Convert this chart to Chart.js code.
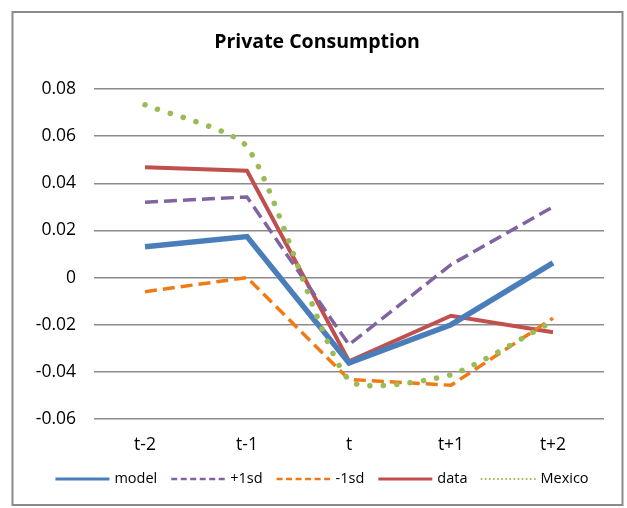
<!DOCTYPE html>
<html>
<head>
<meta charset="utf-8">
<script src="https://cdn.jsdelivr.net/npm/chart.js@4/dist/chart.umd.min.js"></script>
<style>
  html, body { margin: 0; padding: 0; background: #fff; }
  canvas { display: block; }
</style>
</head>
<body>
<canvas id="myChart" width="627" height="508"></canvas>
<script>
// categories and series values
var periods = ['t-2', 't-1', 't', 't+1', 't+2'];
var model   = [0.0131, 0.0174, -0.0362, -0.0200, 0.0062];
var plus1sd = [0.0320, 0.0342, -0.0285, 0.0055, 0.0300];
var minus1sd = [-0.0060, 0.0000, -0.0432, -0.0457, -0.0172];
var data    = [0.0468, 0.0453, -0.0355, -0.0162, -0.0232];
var mexico  = [0.0733, 0.0555, -0.0435, -0.0412, -0.0185];
var yTicks  = [0.08, 0.06, 0.04, 0.02, 0, -0.02, -0.04, -0.06];

var FONT = '"Open Sans", Lato, "Liberation Sans", sans-serif';
Chart.defaults.font.family = FONT;
Chart.defaults.color = '#000';

// outer frame + legend drawn by hand (Excel style line samples)
var framePlugin = {
    id: 'frame',
    beforeDraw: function (chart) {
        var c = chart.ctx;
        c.save();
        c.fillStyle = '#fff';
        c.fillRect(0, 0, chart.width, chart.height);
        c.strokeStyle = '#8a8a8a';
        c.lineWidth = 2;
        c.strokeRect(12.5, 12, 610, 493);
        c.restore();
    },
    afterDraw: function (chart) {
        var c = chart.ctx;
        var sets = chart.data.datasets;
        var lineLen = 54, gapA = 5, gapB = 14, y = 479;
        c.save();
        c.font = '14.5px ' + FONT;
        c.textBaseline = 'middle';
        var total = 0;
        sets.forEach(function (ds, i) {
            total += lineLen + gapA + c.measureText(ds.label).width;
            if (i < sets.length - 1) total += gapB;
        });
        var x = 322 - total / 2;
        sets.forEach(function (ds) {
            c.beginPath();
            c.strokeStyle = ds.borderColor;
            c.lineWidth = ds.legendWidth;
            c.lineCap = ds.borderCapStyle || 'butt';
            c.setLineDash(ds.legendDash);
            c.moveTo(x, y);
            c.lineTo(x + lineLen, y);
            c.stroke();
            c.setLineDash([]);
            x += lineLen + gapA;
            c.fillStyle = '#000';
            c.fillText(ds.label, x, y);
            x += c.measureText(ds.label).width + gapB;
        });
        c.restore();
    }
};

var ctx = document.getElementById('myChart').getContext('2d');

var myChart = new Chart(ctx, {
    type: 'line',
    data: {
        labels: periods,
        datasets: [{
            label: 'model',
            data: model,
            borderColor: '#4A7EBB',
            borderWidth: 5.5,
            legendWidth: 3,
            legendDash: []
        }, {
            label: '+1sd',
            data: plus1sd,
            borderColor: '#8064A2',
            borderWidth: 3.5,
            borderDash: [13, 6],
            legendWidth: 2.5,
            legendDash: [6, 3.5]
        }, {
            label: '-1sd',
            data: minus1sd,
            borderColor: '#F07B16',
            borderWidth: 3.5,
            borderDash: [12, 6],
            legendWidth: 2.5,
            legendDash: [6, 3.5]
        }, {
            label: 'data',
            data: data,
            borderColor: '#C0504D',
            borderWidth: 4,
            legendWidth: 3,
            legendDash: []
        }, {
            label: 'Mexico',
            data: mexico,
            borderColor: '#9BBB59',
            borderWidth: 5.5,
            borderDash: [0.1, 13.3],
            borderCapStyle: 'round',
            tension: 0.2,
            legendWidth: 2,
            legendDash: [0.1, 4],
            order: -1
        }]
    },
    options: {
        responsive: false,
        animation: false,
        clip: false,
        elements: {
            point: { radius: 0, hoverRadius: 0 },
            line: { tension: 0, fill: false }
        },
        layout: { padding: { left: 30, right: 23, top: 0, bottom: 49 } },
        plugins: {
            legend: { display: false },
            tooltip: { enabled: false },
            title: {
                display: true,
                text: 'Private Consumption',
                color: '#000',
                font: { size: 19.5, weight: 'bold', lineHeight: 1.2 },
                padding: { top: 31, bottom: 34.6 }
            }
        },
        scales: {
            x: {
                offset: true,
                grid: { display: false, drawTicks: false },
                border: { display: false },
                ticks: { font: { size: 17.5 }, color: '#000', padding: 16, maxRotation: 0 },
                afterFit: function (scale) { scale.height = 40; }
            },
            y: {
                min: -0.06,
                max: 0.08,
                grid: { color: '#8c8c8c', lineWidth: 1.5, drawTicks: false },
                border: { display: false },
                afterBuildTicks: function (scale) {
                    scale.ticks = yTicks.map(function (v) { return { value: v }; });
                },
                ticks: {
                    font: { size: 17.5 },
                    color: '#000',
                    padding: 18,
                    callback: function (v) {
                        return Math.abs(v) < 1e-9 ? '0' : v.toFixed(2);
                    }
                },
                afterFit: function (scale) { scale.width = 64; }
            }
        }
    },
    plugins: [framePlugin]
});
</script>
</body>
</html>
